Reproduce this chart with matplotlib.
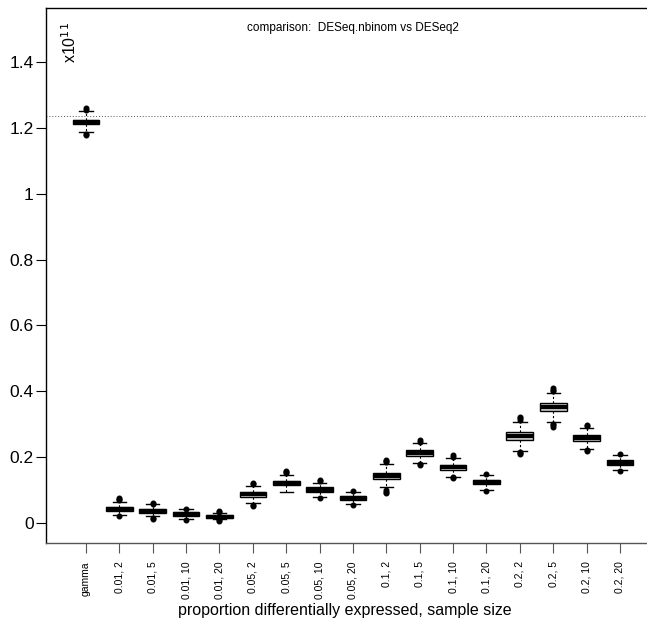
import matplotlib
matplotlib.use("Agg")
import matplotlib.pyplot as plt

plt.rcParams['font.family'] = ['Liberation Sans', 'DejaVu Sans']

labels = ["gamma", "0.01, 2", "0.01, 5", "0.01, 10", "0.01, 20",
          "0.05, 2", "0.05, 5", "0.05, 10", "0.05, 20",
          "0.1, 2", "0.1, 5", "0.1, 10", "0.1, 20",
          "0.2, 2", "0.2, 5", "0.2, 10", "0.2, 20"]

# values in units of 1e11
medians = [1.218, 0.043, 0.036, 0.027, 0.019,
           0.087, 0.121, 0.101, 0.075,
           0.144, 0.212, 0.169, 0.126,
           0.264, 0.352, 0.257, 0.183]
q1 = [1.211, 0.037, 0.030, 0.022, 0.014,
      0.080, 0.114, 0.094, 0.069,
      0.135, 0.203, 0.162, 0.120,
      0.252, 0.339, 0.248, 0.176]
q3 = [1.225, 0.049, 0.042, 0.032, 0.024,
      0.094, 0.128, 0.108, 0.081,
      0.153, 0.221, 0.176, 0.132,
      0.276, 0.365, 0.266, 0.190]
whisk_lo = [1.188, 0.024, 0.021, 0.012, 0.011,
            0.062, 0.095, 0.079, 0.058,
            0.108, 0.181, 0.141, 0.100,
            0.219, 0.308, 0.225, 0.161]
whisk_hi = [1.251, 0.065, 0.057, 0.042, 0.029,
            0.113, 0.146, 0.122, 0.093,
            0.179, 0.242, 0.197, 0.146,
            0.308, 0.394, 0.290, 0.207]
outliers = [[1.180, 1.183, 1.256, 1.260],
            [0.020, 0.070, 0.073, 0.076],
            [0.013, 0.016, 0.058, 0.060],
            [0.010, 0.044],
            [0.006, 0.008, 0.032, 0.035],
            [0.052, 0.056, 0.118, 0.122],
            [0.152, 0.156, 0.158],
            [0.076, 0.128, 0.131],
            [0.055, 0.096],
            [0.092, 0.095, 0.099, 0.184, 0.188, 0.192],
            [0.176, 0.178, 0.247, 0.251],
            [0.136, 0.139, 0.202, 0.206],
            [0.097, 0.150],
            [0.209, 0.212, 0.216, 0.314, 0.318, 0.323],
            [0.292, 0.297, 0.301, 0.400, 0.405, 0.410],
            [0.220, 0.223, 0.295, 0.299],
            [0.157, 0.211]]

ref_line = 1.236

stats = []
for i in range(len(labels)):
    stats.append(dict(med=medians[i], q1=q1[i], q3=q3[i],
                      whislo=whisk_lo[i], whishi=whisk_hi[i],
                      fliers=outliers[i], label=labels[i]))

fig = plt.figure(figsize=(6.47, 6.24), dpi=100)
ax = fig.add_axes([0.0711, 0.1298, 0.9289, 0.8572])

pos = list(range(1, len(labels) + 1))
ax.bxp(stats, positions=pos, widths=0.8, patch_artist=True,
       boxprops=dict(facecolor='#cccccc', edgecolor='black', linewidth=1.0),
       medianprops=dict(color='black', linewidth=3.0, solid_capstyle='butt'),
       whiskerprops=dict(color='black', linewidth=0.8, linestyle=(0, (2, 2))),
       capprops=dict(color='black', linewidth=1.0),
       capwidths=0.4,
       flierprops=dict(marker='o', markersize=3.3, markerfacecolor='black',
                       markeredgecolor='black'))

ax.axhline(ref_line, color='#555555', linestyle=(0, (1, 2)), linewidth=0.7)

ax.set_xlim(-0.1985, 17.81)
ax.set_ylim(-0.0607, 1.564)

ax.set_yticks([0, 0.2, 0.4, 0.6, 0.8, 1.0, 1.2, 1.4])
ax.set_yticklabels(["0", "0.2", "0.4", "0.6", "0.8", "1", "1.2", "1.4"], fontsize=12.5)
ax.set_xticks(pos)
ax.set_xticklabels(labels, rotation=90, fontsize=7.5)

ax.tick_params(axis='y', length=7, width=0.8, pad=2)
ax.tick_params(axis='x', length=7, width=0.8, color='#555555', pad=6)

ax.spines['right'].set_visible(False)
ax.spines['bottom'].set_color('#555555')
for s in ['left', 'top', 'bottom']:
    ax.spines[s].set_linewidth(1.0)

ax.set_xlabel("proportion differentially expressed, sample size", fontsize=11.5)
ax.xaxis.set_label_coords(0.4975, -0.113)

fig.text(0.545, 0.955, "comparison:  DESeq.nbinom vs DESeq2", fontsize=8.5,
         ha='center', va='center')
ax.text(0.52, 1.46, r"x10$^{11}$", rotation=90, fontsize=11.5, ha='center', va='center')

fig.savefig("out.png", dpi=100)
